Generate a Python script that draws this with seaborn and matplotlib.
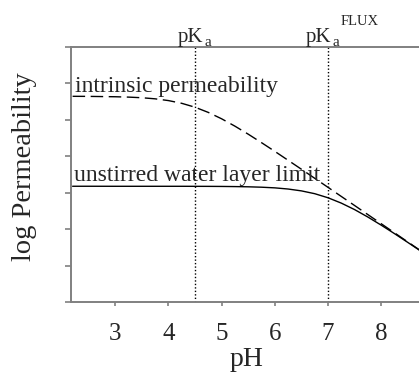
import matplotlib
matplotlib.use("Agg")
import matplotlib.pyplot as plt
import seaborn as sns
import pandas as pd

# pH grid and log permeability values for the two curves
ph = [2.2, 2.5, 3.0, 3.25, 3.5, 3.75, 4.0, 4.25, 4.5, 4.75, 5.0, 5.25, 5.5,
      5.75, 6.0, 6.25, 6.5, 6.75, 7.0, 7.25, 7.5, 7.75, 8.0, 8.25, 8.5, 8.75]
intrinsic = [5.648, 5.646, 5.636, 5.626, 5.609, 5.579, 5.531, 5.456, 5.349,
             5.206, 5.031, 4.829, 4.609, 4.376, 4.137, 3.892, 3.646, 3.398,
             3.149, 2.899, 2.650, 2.400, 2.150, 1.900, 1.650, 1.400]
effective = [3.179, 3.179, 3.178, 3.178, 3.178, 3.178, 3.178, 3.178, 3.177,
             3.176, 3.174, 3.170, 3.164, 3.153, 3.135, 3.103, 3.052, 2.975,
             2.863, 2.716, 2.538, 2.333, 2.111, 1.878, 1.637, 1.393]

pka = 4.5
pka_flux = 7.0
x_ticks = [3, 4, 5, 6, 7, 8]
y_ticks = [0, 1, 2, 3, 4, 5, 6, 7]

sns.set_style("white")
plt.rcParams["font.family"] = ["Liberation Serif", "DejaVu Serif"]

df = pd.DataFrame({"pH": ph, "intrinsic": intrinsic, "effective": effective})

fig = plt.figure(figsize=(4.19, 3.72), dpi=100)
ax = fig.add_axes([0.1695, 0.188, 0.8305, 0.6855])

sns.lineplot(data=df, x="pH", y="intrinsic", ax=ax, color="black",
             linewidth=1.0)
ax.lines[-1].set_dashes([9, 4])
sns.lineplot(data=df, x="pH", y="effective", ax=ax, color="black",
             linewidth=1.0)

ax.axvline(pka, color="black", linestyle=(0, (1, 1.5)), linewidth=1.0)
ax.axvline(pka_flux, color="black", linestyle=(0, (1, 1.5)), linewidth=1.0)

ax.set_xlim(2.17, 8.71)
ax.set_ylim(0, 7)
ax.set_xticks(x_ticks)
ax.set_yticks(y_ticks)
ax.set_yticklabels([])
ax.tick_params(axis="x", labelsize=18, length=3, width=1.2, color="#808080",
               direction="out", bottom=True, pad=12)
ax.tick_params(axis="y", length=4, width=1.2, color="#808080",
               direction="out", left=True)

for side in ["left", "bottom", "top"]:
    ax.spines[side].set_color("#808080")
    ax.spines[side].set_linewidth(1.4)
ax.spines["right"].set_visible(False)

ax.set_xlabel("pH", fontsize=20)
ax.xaxis.set_label_coords(0.505, -0.176)
ax.set_ylabel("log Permeability", fontsize=20.5)
ax.yaxis.set_label_coords(-0.099, 0.53)

ax.text(2.25, 5.78, "intrinsic permeability", fontsize=17, ha="left",
        va="baseline")
ax.text(2.23, 3.32, "unstirred water layer limit", fontsize=17, ha="left",
        va="baseline")


def label(x, text, dx, dy, size):
    # text placed relative to the top of the axes at pH = x, offsets in points
    ax.annotate(text, xy=(x, 7), xytext=(dx, dy), textcoords="offset points",
                fontsize=size, ha="left", va="baseline",
                annotation_clip=False)


label(pka, "pK", -12.5, 3.6, 15)
label(pka, "a", 7.0, 0.6, 11)
label(pka_flux, "pK", -16.0, 3.6, 15)
label(pka_flux, "a", 3.4, 0.6, 11)
label(pka_flux, "FLUX", 9.4, 15.8, 10.5)

fig.savefig("out.png", dpi=100)
